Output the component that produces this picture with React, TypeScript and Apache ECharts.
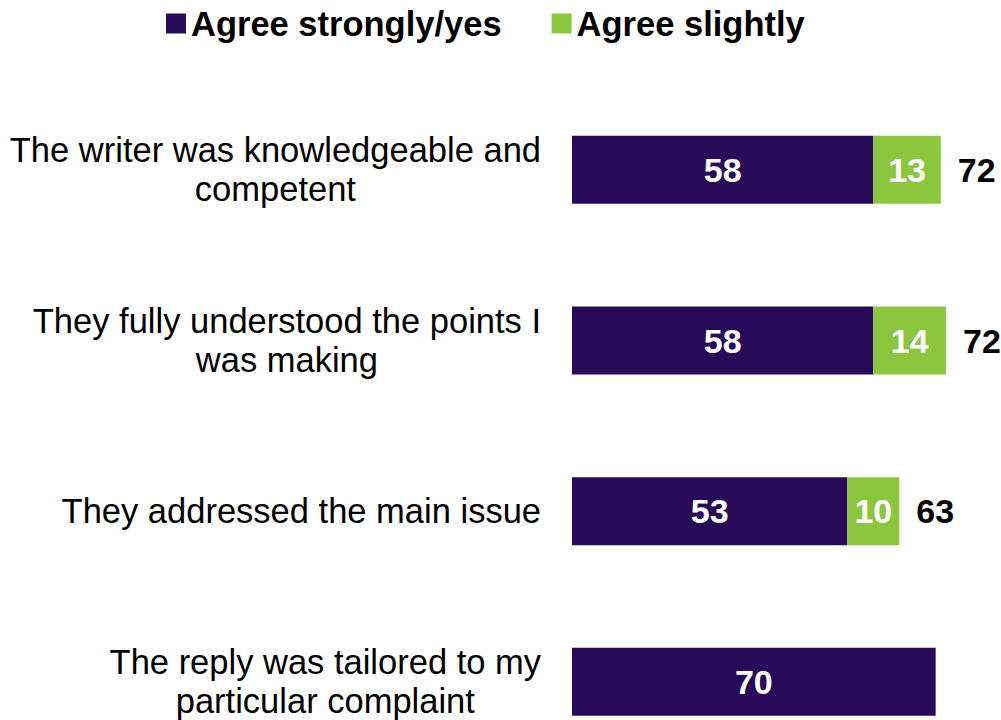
import React, { useEffect, useRef } from "react";
import * as echarts from "echarts";

const categories = [
  "The writer was knowledgeable and\ncompetent",
  "They fully understood the points I\nwas making",
  "They addressed the main issue",
  "The reply was tailored to my\nparticular complaint",
];
const agreeStrongly = [58, 58, 53, 70];
const agreeSlightly: (number | null)[] = [13, 14, 10, null];
const totals: (number | null)[] = [72, 72, 63, null];

const seriesNames = ["Agree strongly/yes", "Agree slightly"];
const colors = ["#280a58", "#8cc63f"];

export default function App() {
  const ref = useRef<HTMLDivElement>(null);
  useEffect(() => {
    document.body.style.margin = "0";
    const chart = echarts.init(ref.current!, null, { renderer: "svg" });
    const font = "'Liberation Sans', Arial, sans-serif";
    const totalData = categories
      .map((c, i) =>
        totals[i] == null ? null : { value: [agreeStrongly[i] + (agreeSlightly[i] ?? 0), c], total: totals[i] }
      )
      .filter((d) => d != null);
    chart.setOption({
      animation: false,
      legend: {
        data: seriesNames,
        left: 161,
        top: 1,
        icon: "rect",
        itemWidth: 20,
        itemHeight: 20,
        itemGap: 50,
        textStyle: { fontFamily: font, fontSize: 34.5, fontWeight: "bold", color: "#000", lineHeight: 34 },
        selectedMode: false,
      },
      grid: { left: 572, top: 84.5, height: 682.7, right: 13.4, outerBoundsMode: "none", containLabel: false },
      xAxis: { type: "value", min: 0, max: 80, show: false },
      yAxis: {
        type: "category",
        data: categories,
        inverse: true,
        axisLine: { show: false },
        axisTick: { show: false },
        splitLine: { show: false },
        axisLabel: {
          margin: 31,
          fontFamily: font,
          fontSize: 34.5,
          color: "#000",
          lineHeight: 39,
          formatter: (v: string) =>
            v
              .split("\n")
              .map((l) => "{c|" + l + "}")
              .join("\n"),
          rich: {
            c: { align: "center", fontFamily: font, fontSize: 34.5, color: "#000", lineHeight: 39 },
          },
        },
      },
      series: [
        {
          name: seriesNames[0],
          type: "bar",
          stack: "total",
          data: agreeStrongly,
          barWidth: 68,
          itemStyle: { color: colors[0] },
          label: {
            show: true,
            position: "inside",
            color: "#fff",
            fontFamily: font,
            fontWeight: "bold",
            fontSize: 34,
          },
        },
        {
          name: seriesNames[1],
          type: "bar",
          stack: "total",
          data: agreeSlightly.map((v) => (v == null ? "-" : v)),
          barWidth: 68,
          itemStyle: { color: colors[1] },
          label: {
            show: true,
            position: "inside",
            color: "#fff",
            fontFamily: font,
            fontWeight: "bold",
            fontSize: 34,
          },
        },
        {
          name: "Total",
          type: "scatter",
          data: totalData,
          symbolSize: 0,
          itemStyle: { color: "#000", opacity: 1 },
          silent: true,
          label: {
            show: true,
            position: "right",
            distance: 17,
            color: "#000",
            opacity: 1,
            fontFamily: font,
            fontWeight: "bold",
            fontSize: 34,
            formatter: (p: any) => String(p.data.total),
          },
        },
      ],
    });
    return () => chart.dispose();
  }, []);
  return <div ref={ref} style={{ width: 1001, height: 720 }} />;
}
